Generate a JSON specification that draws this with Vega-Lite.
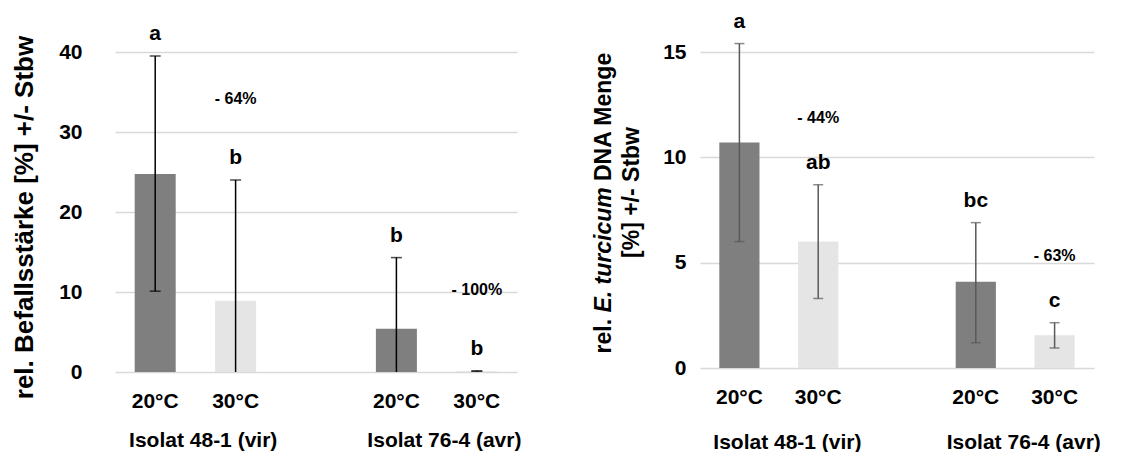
{
  "$schema": "https://vega.github.io/schema/vega-lite/v6.json",
  "autosize": {"type": "pad"},
  "bounds": "flush",
  "padding": {"left": 11, "top": 10, "right": 10, "bottom": 0},
  "spacing": 183,
  "config": {
    "font": "Liberation Sans",
    "view": {"stroke": null},
    "axis": {
      "labelFont": "Liberation Sans",
      "labelFontWeight": "bold",
      "labelFontSize": 21,
      "labelColor": "#000000",
      "titleFont": "Liberation Sans",
      "titleFontWeight": "bold",
      "titleColor": "#000000",
      "gridColor": "#d9d9d9",
      "gridWidth": 1.5,
      "domain": false,
      "ticks": false
    }
  },
  "datasets": {
    "befall": [
      {"bar": "Isolat 48-1 (vir) 20°C", "isolate": "Isolat 48-1 (vir)", "temp": "20°C", "mean": 24.75, "lo": 10.1, "hi": 39.5, "letter": "a", "change": null},
      {"bar": "Isolat 48-1 (vir) 30°C", "isolate": "Isolat 48-1 (vir)", "temp": "30°C", "mean": 8.9, "lo": -6.2, "hi": 24.0, "letter": "b", "change": "- 64%"},
      {"bar": "Isolat 76-4 (avr) 20°C", "isolate": "Isolat 76-4 (avr)", "temp": "20°C", "mean": 5.4, "lo": -3.5, "hi": 14.3, "letter": "b", "change": null},
      {"bar": "Isolat 76-4 (avr) 30°C", "isolate": "Isolat 76-4 (avr)", "temp": "30°C", "mean": 0.1, "lo": 0.05, "hi": 0.15, "letter": "b", "change": "- 100%"}
    ],
    "dna": [
      {"bar": "Isolat 48-1 (vir) 20°C", "isolate": "Isolat 48-1 (vir)", "temp": "20°C", "mean": 10.7, "lo": 6.0, "hi": 15.4, "letter": "a", "change": null},
      {"bar": "Isolat 48-1 (vir) 30°C", "isolate": "Isolat 48-1 (vir)", "temp": "30°C", "mean": 6.0, "lo": 3.3, "hi": 8.7, "letter": "ab", "change": "- 44%"},
      {"bar": "Isolat 76-4 (avr) 20°C", "isolate": "Isolat 76-4 (avr)", "temp": "20°C", "mean": 4.1, "lo": 1.2, "hi": 6.9, "letter": "bc", "change": null},
      {"bar": "Isolat 76-4 (avr) 30°C", "isolate": "Isolat 76-4 (avr)", "temp": "30°C", "mean": 1.55, "lo": 0.95, "hi": 2.15, "letter": "c", "change": "- 63%"}
    ]
  },
  "hconcat": [
    {
      "width": 402,
      "height": 320,
      "data": {"name": "befall"},
      "resolve": {"axis": {"x": "independent"}},
      "layer": [
        {
          "mark": {"type": "bar", "width": {"band": 0.51}},
          "encoding": {
            "x": {
              "field": "bar", "type": "nominal",
              "scale": {"domain": ["Isolat 48-1 (vir) 20°C", "Isolat 48-1 (vir) 30°C", "spacer", "Isolat 76-4 (avr) 20°C", "Isolat 76-4 (avr) 30°C"], "paddingInner": 0, "paddingOuter": 0},
              "axis": {"values": ["Isolat 48-1 (vir) 20°C", "Isolat 48-1 (vir) 30°C", "Isolat 76-4 (avr) 20°C", "Isolat 76-4 (avr) 30°C"], "labelExpr": "slice(datum.label, -4)", "labelAngle": 0, "labelPadding": 18, "grid": false, "title": null, "orient": "bottom"}
            },
            "y": {
              "field": "mean", "type": "quantitative",
              "scale": {"domain": [0, 40], "nice": false},
              "axis": {"values": [0, 10, 20, 30, 40], "grid": true, "labelPadding": 33, "title": "rel. Befallsstärke [%] +/- Stbw", "titleFontSize": 26, "titlePadding": 21, "titleY": 165}
            },
            "color": {"field": "temp", "type": "nominal", "scale": {"domain": ["20°C", "30°C"], "range": ["#7f7f7f", "#e5e5e5"]}, "legend": null}
          }
        },
        {
          "mark": {"type": "rule", "clip": true, "color": "#000000", "strokeWidth": 1.5},
          "encoding": {
            "x": {"field": "bar", "type": "nominal", "axis": {"values": ["Isolat 48-1 (vir) 20°C", "Isolat 76-4 (avr) 20°C"], "labelOffset": 48, "labelExpr": "slice(datum.label, 0, -5)", "labelAngle": 0, "labelPadding": 57, "grid": false, "title": null, "orient": "bottom"}},
            "y": {"field": "lo", "type": "quantitative", "axis": {"values": [0, 10, 20, 30, 40], "grid": true, "labelPadding": 33, "title": "rel. Befallsstärke [%] +/- Stbw", "titleFontSize": 26, "titlePadding": 21, "titleY": 165}},
            "y2": {"field": "hi"}
          }
        },
        {
          "mark": {"type": "tick", "clip": true, "orient": "horizontal", "size": 11, "thickness": 1.5, "color": "#000000"},
          "encoding": {
            "x": {"field": "bar", "type": "nominal", "axis": null},
            "y": {"field": "lo", "type": "quantitative", "axis": {"values": [0, 10, 20, 30, 40], "grid": true, "labelPadding": 33, "title": "rel. Befallsstärke [%] +/- Stbw", "titleFontSize": 26, "titlePadding": 21, "titleY": 165}}
          }
        },
        {
          "mark": {"type": "tick", "clip": true, "orient": "horizontal", "size": 11, "thickness": 1.5, "color": "#000000"},
          "encoding": {
            "x": {"field": "bar", "type": "nominal", "axis": null},
            "y": {"field": "hi", "type": "quantitative", "axis": {"values": [0, 10, 20, 30, 40], "grid": true, "labelPadding": 33, "title": "rel. Befallsstärke [%] +/- Stbw", "titleFontSize": 26, "titlePadding": 21, "titleY": 165}}
          }
        },
        {
          "mark": {"type": "text", "dy": -22, "baseline": "middle", "fontSize": 21, "fontWeight": "bold", "color": "#000000"},
          "encoding": {
            "x": {"field": "bar", "type": "nominal", "axis": null},
            "y": {"field": "hi", "type": "quantitative", "axis": {"values": [0, 10, 20, 30, 40], "grid": true, "labelPadding": 33, "title": "rel. Befallsstärke [%] +/- Stbw", "titleFontSize": 26, "titlePadding": 21, "titleY": 165}},
            "text": {"field": "letter"}
          }
        },
        {
          "transform": [{"filter": "isValid(datum.change)"}],
          "mark": {"type": "text", "dy": -81, "baseline": "middle", "fontSize": 16, "fontWeight": "bold", "color": "#000000"},
          "encoding": {
            "x": {"field": "bar", "type": "nominal", "axis": null},
            "y": {"field": "hi", "type": "quantitative", "axis": {"values": [0, 10, 20, 30, 40], "grid": true, "labelPadding": 33, "title": "rel. Befallsstärke [%] +/- Stbw", "titleFontSize": 26, "titlePadding": 21, "titleY": 165}},
            "text": {"field": "change"}
          }
        }
      ]
    },
    {
      "width": 394,
      "height": 316,
      "data": {"name": "dna"},
      "resolve": {"axis": {"x": "independent", "y": "independent"}},
      "layer": [
        {
          "mark": {"type": "bar", "width": {"band": 0.51}},
          "encoding": {
            "x": {
              "field": "bar", "type": "nominal",
              "scale": {"domain": ["Isolat 48-1 (vir) 20°C", "Isolat 48-1 (vir) 30°C", "spacer", "Isolat 76-4 (avr) 20°C", "Isolat 76-4 (avr) 30°C"], "paddingInner": 0, "paddingOuter": 0},
              "axis": {"values": ["Isolat 48-1 (vir) 20°C", "Isolat 48-1 (vir) 30°C", "Isolat 76-4 (avr) 20°C", "Isolat 76-4 (avr) 30°C"], "labelExpr": "slice(datum.label, -4)", "labelAngle": 0, "labelPadding": 18, "grid": false, "title": null, "orient": "bottom"}
            },
            "y": {
              "field": "mean", "type": "quantitative",
              "scale": {"domain": [0, 15], "nice": false},
              "axis": {"orient": "left", "values": [0, 5, 10, 15], "grid": true, "labelPadding": 14, "title": "[%] +/- Stbw", "titleFontSize": 23, "titleFontWeight": "bold", "titleX": -69, "titleY": 140, "titleBaseline": "middle", "titleAlign": "center", "titleAngle": -90}
            },
            "color": {"field": "temp", "type": "nominal", "scale": {"domain": ["20°C", "30°C"], "range": ["#7f7f7f", "#e5e5e5"]}, "legend": null}
          }
        },
        {
          "mark": {"type": "rule", "color": "#595959", "strokeWidth": 1.5},
          "encoding": {
            "x": {"field": "bar", "type": "nominal", "axis": {"values": ["Isolat 48-1 (vir) 20°C", "Isolat 76-4 (avr) 20°C"], "labelOffset": 48, "labelExpr": "slice(datum.label, 0, -5)", "labelAngle": 0, "labelPadding": 63, "grid": false, "title": null, "orient": "bottom"}},
            "y": {"field": "lo", "type": "quantitative", "axis": {"orient": "left", "labels": false, "grid": false, "title": "DNA Menge", "titleFontSize": 23, "titleFontWeight": "bold", "titleX": -97, "titleY": 128.5, "titleBaseline": "middle", "titleAlign": "left", "titleAngle": -90}},
            "y2": {"field": "hi"}
          }
        },
        {
          "mark": {"type": "tick", "orient": "horizontal", "size": 10, "thickness": 1.5, "color": "#595959"},
          "encoding": {
            "x": {"field": "bar", "type": "nominal", "axis": null},
            "y": {"field": "lo", "type": "quantitative", "axis": {"orient": "left", "labels": false, "grid": false, "title": "rel.", "titleFontSize": 23, "titleFontWeight": "bold", "titleX": -97, "titleY": 301, "titleBaseline": "middle", "titleAlign": "left", "titleAngle": -90}}
          }
        },
        {
          "mark": {"type": "tick", "orient": "horizontal", "size": 10, "thickness": 1.5, "color": "#595959"},
          "encoding": {
            "x": {"field": "bar", "type": "nominal", "axis": null},
            "y": {"field": "hi", "type": "quantitative", "axis": {"orient": "left", "labels": false, "grid": false, "title": "E. turcicum", "titleFontSize": 23, "titleFontWeight": "bold", "titleFontStyle": "italic", "titleX": -97, "titleY": 260, "titleBaseline": "middle", "titleAlign": "left", "titleAngle": -90}}
          }
        },
        {
          "mark": {"type": "text", "dy": -22, "baseline": "middle", "fontSize": 21, "fontWeight": "bold", "color": "#000000"},
          "encoding": {
            "x": {"field": "bar", "type": "nominal", "axis": null},
            "y": {"field": "hi", "type": "quantitative", "axis": null},
            "text": {"field": "letter"}
          }
        },
        {
          "transform": [{"filter": "isValid(datum.change)"}],
          "mark": {"type": "text", "dy": -67, "baseline": "middle", "fontSize": 16, "fontWeight": "bold", "color": "#000000"},
          "encoding": {
            "x": {"field": "bar", "type": "nominal", "axis": null},
            "y": {"field": "hi", "type": "quantitative", "axis": null},
            "text": {"field": "change"}
          }
        }
      ]
    }
  ]
}
